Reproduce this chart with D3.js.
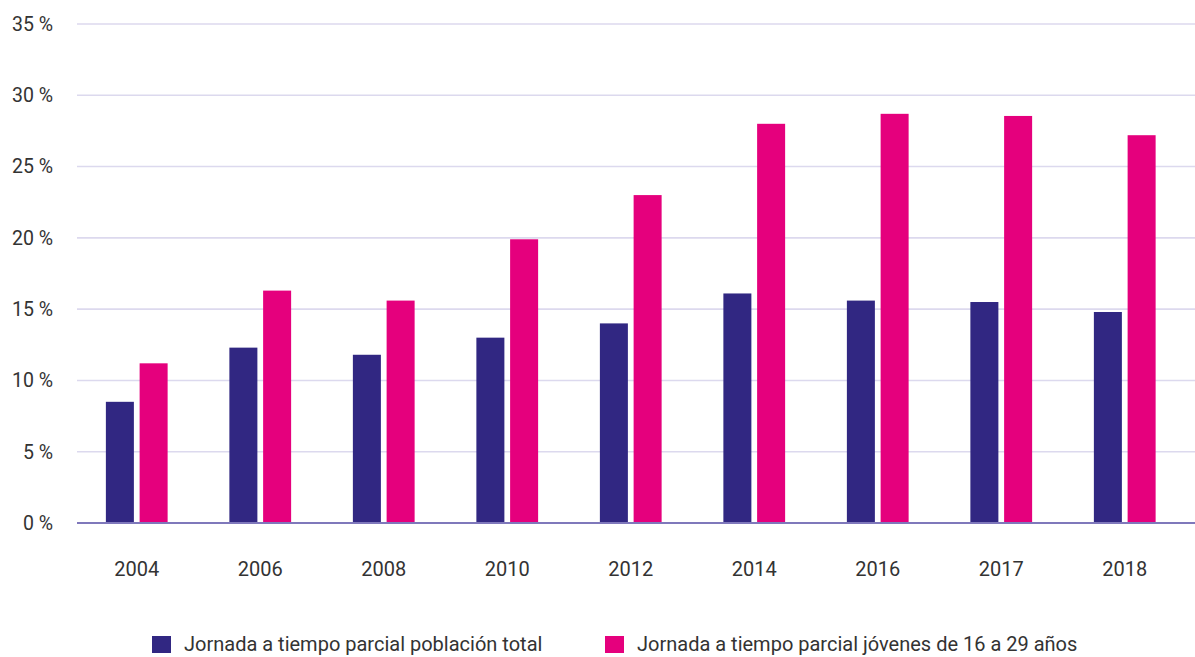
<!DOCTYPE html>
<html>
<head>
<meta charset="utf-8">
<script src="https://cdn.jsdelivr.net/npm/d3@7"></script>
<style>
  html, body { margin: 0; padding: 0; background: #fff; }
  svg { display: block; font-family: Roboto, "Liberation Sans", sans-serif; }
</style>
</head>
<body>
<svg id="chart" width="1195" height="657"></svg>
<script>
// Part-time employment share by year
const years = ["2004", "2006", "2008", "2010", "2012", "2014", "2016", "2017", "2018"];
const totalPopulation = [8.5, 12.3, 11.8, 13.0, 14.0, 16.1, 15.6, 15.5, 14.8];
const youth16to29 = [11.2, 16.3, 15.6, 19.9, 23.0, 28.0, 28.7, 28.55, 27.2];
const yTicks = [0, 5, 10, 15, 20, 25, 30, 35];
const seriesNames = [
  "Jornada a tiempo parcial población total",
  "Jornada a tiempo parcial jóvenes de 16 a 29 años"
];
const seriesColors = ["#312782", "#e5007d"];

const svg = d3.select("#chart");
const W = 1195;

const y = d3.scaleLinear().domain([0, 35]).range([523, 24]);
const x = d3.scaleBand().domain(years).range([75, 1186.5])
  .paddingInner(0.5).paddingOuter(0.25);
const xs = d3.scaleBand().domain([0, 1]).range([0, x.bandwidth()]).paddingInner(0.17);

// Horizontal gridlines
svg.append("g").selectAll("line")
  .data(yTicks.filter(d => d > 0))
  .join("line")
  .attr("x1", 77).attr("x2", W)
  .attr("y1", d => y(d)).attr("y2", d => y(d))
  .attr("stroke", "#dcd9ee").attr("stroke-width", 1.6);

// Y tick labels
svg.append("g").selectAll("text")
  .data(yTicks)
  .join("text")
  .attr("x", 53).attr("y", d => y(d))
  .attr("dy", "0.35em")
  .attr("text-anchor", "end")
  .attr("font-size", 19.5)
  .attr("fill", "#333")
  .text(d => d + " %");

// Bars
const series = [totalPopulation, youth16to29];
const groups = svg.append("g").selectAll("g")
  .data(years)
  .join("g")
  .attr("transform", d => `translate(${x(d)},0)`);

groups.selectAll("rect")
  .data((d, i) => series.map((s, k) => ({ k, v: s[i] })))
  .join("rect")
  .attr("x", d => xs(d.k))
  .attr("width", xs.bandwidth())
  .attr("y", d => y(d.v))
  .attr("height", d => y(0) - y(d.v))
  .attr("fill", d => seriesColors[d.k]);

// Baseline
svg.append("line")
  .attr("x1", 77).attr("x2", W)
  .attr("y1", y(0)).attr("y2", y(0))
  .attr("stroke", "#7f78bb").attr("stroke-width", 2);

// X labels
svg.append("g").selectAll("text")
  .data(years)
  .join("text")
  .attr("x", d => x(d) + x.bandwidth() / 2)
  .attr("y", 576)
  .attr("text-anchor", "middle")
  .attr("font-size", 20)
  .attr("fill", "#333")
  .text(d => d);

// Legend
const legendX = [152, 605];
const legend = svg.append("g").selectAll("g")
  .data(seriesNames)
  .join("g")
  .attr("transform", (d, i) => `translate(${legendX[i]},636)`);
legend.append("rect")
  .attr("width", 19).attr("height", 17)
  .attr("fill", (d, i) => seriesColors[i]);
legend.append("text")
  .attr("x", 32).attr("y", 15)
  .attr("font-size", 20)
  .attr("fill", "#333")
  .text(d => d);
</script>
</body>
</html>
